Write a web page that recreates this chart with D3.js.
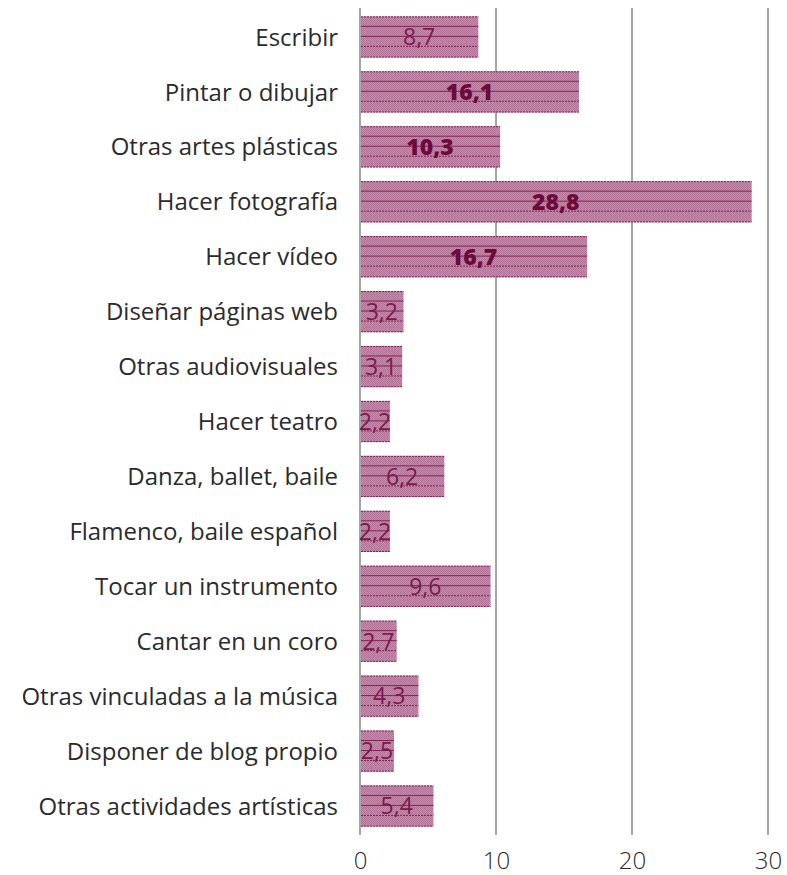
<!DOCTYPE html>
<html>
<head>
<meta charset="utf-8">
<script src="https://cdn.jsdelivr.net/npm/d3@7"></script>
<style>
  html, body { margin: 0; padding: 0; background: #fff; }
  svg { display: block; }
</style>
</head>
<body>
<svg id="chart" width="787" height="875"></svg>
<script>
// Categories and percentages
const categories = [
  "Escribir",
  "Pintar o dibujar",
  "Otras artes plásticas",
  "Hacer fotografía",
  "Hacer vídeo",
  "Diseñar páginas web",
  "Otras audiovisuales",
  "Hacer teatro",
  "Danza, ballet, baile",
  "Flamenco, baile español",
  "Tocar un instrumento",
  "Cantar en un coro",
  "Otras vinculadas a la música",
  "Disponer de blog propio",
  "Otras actividades artísticas"
];
const values = [8.7, 16.1, 10.3, 28.8, 16.7, 3.2, 3.1, 2.2, 6.2, 2.2, 9.6, 2.7, 4.3, 2.5, 5.4];
// Values shown in bold
const highlighted = [false, true, true, true, true, false, false, false, false, false, false, false, false, false, false];
const tickValues = [0, 10, 20, 30];

const data = categories.map((c, i) => ({ cat: c, value: values[i], bold: highlighted[i] }));

const svg = d3.select("#chart");
const fontFamily = "'Open Sans', sans-serif";

const x = d3.scaleLinear().domain([0, 30]).range([360, 768]);
const y = d3.scaleBand().domain(categories).range([9.5, 833.5]).paddingInner(0.25).paddingOuter(0.125);

// Checkered fill for the bars
const defs = svg.append("defs");
const pat = defs.append("pattern")
  .attr("id", "checker")
  .attr("patternUnits", "userSpaceOnUse")
  .attr("width", 2).attr("height", 2);
pat.append("rect").attr("width", 2).attr("height", 2).attr("fill", "#c58ca9");
pat.append("rect").attr("width", 1).attr("height", 1).attr("fill", "#b27496");
pat.append("rect").attr("x", 1).attr("y", 1).attr("width", 1).attr("height", 1).attr("fill", "#b27496");

// Vertical gridlines
svg.append("g")
  .selectAll("line")
  .data(tickValues)
  .join("line")
  .attr("x1", d => x(d)).attr("x2", d => x(d))
  .attr("y1", 8).attr("y2", 835)
  .attr("stroke", "#a6a6a6")
  .attr("stroke-width", 2);

// Bars
const bars = svg.append("g")
  .selectAll("g")
  .data(data)
  .join("g");

bars.append("rect")
  .attr("x", x(0) + 1)
  .attr("y", d => y(d.cat))
  .attr("width", d => x(d.value) - x(0) - 1)
  .attr("height", y.bandwidth())
  .attr("fill", "url(#checker)");

// Horizontal rules across each bar (solid and dotted)
const rules = [
  { off: 0.5, dash: "2,1" },
  { off: 10, dash: null },
  { off: 20, dash: null },
  { off: 30, dash: "2,1" },
  { off: null, dash: "2,1" }
];
bars.each(function (d) {
  const g = d3.select(this);
  const top = y(d.cat);
  const bw = y.bandwidth();
  rules.forEach(r => {
    const yy = r.off === null ? top + bw - 0.5 : top + r.off;
    g.append("line")
      .attr("x1", x(0) + 1).attr("x2", x(d.value))
      .attr("y1", yy).attr("y2", yy)
      .attr("stroke", "#7a1a4e")
      .attr("stroke-opacity", 0.9)
      .attr("stroke-width", 1)
      .attr("stroke-dasharray", r.dash);
  });
});

// Value labels
bars.append("text")
  .attr("x", d => (x(0) + x(d.value)) / 2)
  .attr("y", d => y(d.cat) + y.bandwidth() / 2)
  .attr("dy", "0.36em")
  .attr("text-anchor", "middle")
  .attr("font-family", fontFamily)
  .attr("font-size", 23)
  .attr("font-weight", d => d.bold ? 800 : 400)
  .attr("fill", d => d.bold ? "#6d0a3c" : "#7a1a4e")
  .text(d => d3.format(".1f")(d.value).replace(".", ","));

// Category labels
svg.append("g")
  .selectAll("text")
  .data(data)
  .join("text")
  .attr("x", 338)
  .attr("y", d => y(d.cat) + y.bandwidth() / 2)
  .attr("dy", "0.36em")
  .attr("text-anchor", "end")
  .attr("font-family", fontFamily)
  .attr("font-size", 24)
  .attr("font-weight", 400)
  .attr("fill", "#2b2b2b")
  .text(d => d.cat);

// X axis tick labels
const axis = d3.axisBottom(x).tickValues(tickValues).tickSize(0).tickPadding(0);
const ax = svg.append("g").call(axis);
ax.select(".domain").remove();
ax.selectAll("text")
  .attr("y", 869)
  .attr("dy", null)
  .attr("font-family", fontFamily)
  .attr("font-size", 24)
  .attr("font-weight", 300)
  .attr("fill", "#2b2b2b");
</script>
</body>
</html>
